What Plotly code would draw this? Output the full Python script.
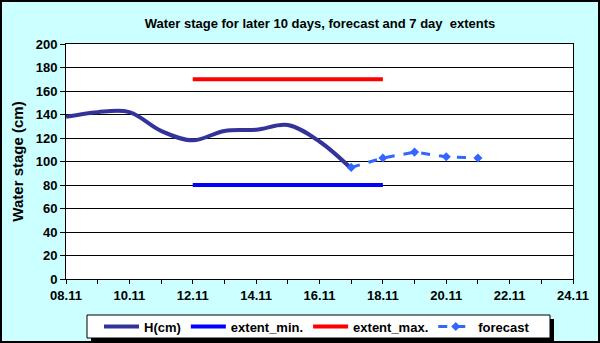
import plotly.graph_objects as go

# dati
date_h = ["2012-11-08", "2012-11-09", "2012-11-10", "2012-11-11", "2012-11-12",
          "2012-11-13", "2012-11-14", "2012-11-15", "2012-11-16", "2012-11-17"]
h_cm = [138, 142, 142, 126, 118, 126, 127, 131, 117, 94]

date_fc = ["2012-11-17", "2012-11-18", "2012-11-19", "2012-11-20", "2012-11-21"]
forecast = [95, 103, 108, 104, 103]

date_ext = ["2012-11-12", "2012-11-18"]
ext_min = [80, 80]
ext_max = [170, 170]

# geometria in pixel
W, H = 600, 343
ML, MR, MT, MB = 66, 27, 44, 64
PW, PH = W - ML - MR, H - MT - MB


def px_x(x):
    return (x - ML) / PW


def px_y(y):
    return (H - MB - y) / PH


font = "Liberation Sans, Arial, sans-serif"

fig = go.Figure()
fig.add_trace(go.Scatter(x=date_h, y=h_cm, name="H(cm)", mode="lines",
                         line=dict(color="#333399", width=4, shape="spline", smoothing=1)))
fig.add_trace(go.Scatter(x=date_ext, y=ext_min, name="extent_min.", mode="lines",
                         line=dict(color="#0000FF", width=4)))
fig.add_trace(go.Scatter(x=date_ext, y=ext_max, name="extent_max.", mode="lines",
                         line=dict(color="#FF0000", width=4)))
fig.add_trace(go.Scatter(x=date_fc, y=forecast, name="forecast", mode="lines+markers",
                         line=dict(color="#3366FF", width=3, dash="dash"),
                         marker=dict(symbol="diamond", size=7, color="#3366FF")))

# bordo esterno
fig.add_shape(type="rect", xref="paper", yref="paper",
              x0=px_x(1), x1=px_x(W - 1), y0=px_y(H - 1), y1=px_y(1),
              line=dict(color="black", width=2), layer="below")
# riquadro legenda con ombra
fig.add_shape(type="rect", xref="paper", yref="paper",
              x0=px_x(91), x1=px_x(554), y0=px_y(342), y1=px_y(319),
              line=dict(width=0), fillcolor="black", layer="above")
fig.add_shape(type="rect", xref="paper", yref="paper",
              x0=px_x(87), x1=px_x(550), y0=px_y(338), y1=px_y(315),
              line=dict(color="black", width=1), fillcolor="white", layer="above")

fig.update_layout(
    width=W, height=H,
    margin=dict(l=ML, r=MR, t=MT, b=MB, autoexpand=False),
    paper_bgcolor="#CCFFFF", plot_bgcolor="white",
    font=dict(family=font, size=13, color="black"),
    title=dict(text="<b>Water stage for later 10 days, forecast and 7 day  extents</b>",
               x=px_x(320), xref="paper", xanchor="center", y=1 - 23 / H, yanchor="middle",
               font=dict(size=13)),
    legend=dict(orientation="h", x=px_x(99), xanchor="left", y=px_y(326.5), yanchor="middle",
                bgcolor="rgba(0,0,0,0)", borderwidth=0,
                font=dict(size=13, weight="bold"), itemwidth=35),
    showlegend=True,
)
fig.update_xaxes(type="date", range=["2012-11-08", "2012-11-24"],
                 tick0="2012-11-08", dtick=2 * 86400000, tickformat="%d.%m",
                 ticks="outside", ticklen=4, tickcolor="black",
                 minor=dict(dtick=86400000, ticks="outside", ticklen=4, tickcolor="black"),
                 showgrid=False, showline=True, linecolor="black", linewidth=1, mirror=True,
                 tickfont=dict(size=13, weight="bold"))
fig.update_yaxes(range=[0, 200], dtick=20, ticks="outside", ticklen=5, tickcolor="black",
                 showgrid=True, gridcolor="black", gridwidth=1,
                 showline=True, linecolor="black", linewidth=1, mirror=True, zeroline=False,
                 tickfont=dict(size=13, weight="bold"),
                 title=dict(text="<b>Water stage (cm)</b>", font=dict(size=15), standoff=8))

# niente margine della pagina, così la figura occupa tutta la finestra
fig.write_html("out.html", config={"displayModeBar": False},
               post_script="document.body.style.margin='0';")
